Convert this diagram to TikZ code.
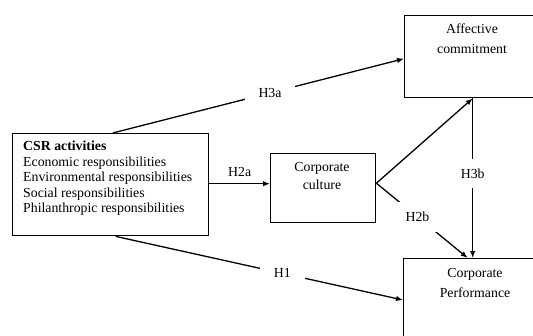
\documentclass[tikz,border=0pt]{standalone}
\usepackage{fontspec}
\setmainfont{Liberation Serif}
\usetikzlibrary{arrows.meta,calc}
\begin{document}
\begin{tikzpicture}[x=1pt,y=-1pt,
  box/.style={draw,line width=1.4pt,rectangle,inner sep=0pt,anchor=north west},
  arr/.style={line width=1.3pt,-{Latex[length=7pt,width=5.5pt]}},
  txt/.style={inner sep=0pt,font=\fontsize{13.8}{15.5}\selectfont},
  lab/.style={fill=white,inner xsep=14pt,inner ysep=10pt,font=\fontsize{13.8}{15.5}\selectfont}]
\useasboundingbox (0,0) rectangle (533,335);
\clip (0,0) rectangle (533,335);
% boxes
\node[box,minimum width=196pt,minimum height=102pt] (csr) at (12,133) {};
\node[box,minimum width=105pt,minimum height=69pt] (cult) at (270,153) {};
\node[box,minimum width=136pt,minimum height=82pt] (aff) at (404,15) {};
\node[box,minimum width=144pt,minimum height=110pt] (perf) at (403,258) {};
% texts
\node[txt,anchor=base west] (c1) at (23,150) {\textbf{CSR activities}};
\node[txt,anchor=base west] (c2) at (23,166) {Economic responsibilities};
\node[txt,anchor=base west] (c3) at (23,181.5) {Environmental responsibilities};
\node[txt,anchor=base west] (c4) at (23,197) {Social responsibilities};
\node[txt,anchor=base west] (c5) at (23,212.5) {Philanthropic responsibilities};
\node[txt,anchor=base] (k1) at (322,171) {Corporate};
\node[txt,anchor=base] (k2) at (322,189) {culture};
\node[txt,anchor=base] (a1) at (472,33) {Affective};
\node[txt,anchor=base] (a2) at (472,53) {commitment};
\node[txt,anchor=base] (p1) at (475,277) {Corporate};
\node[txt,anchor=base] (p2) at (475,297) {Performance};
% connectors
\draw[arr] ([xshift=2pt]csr.north) -- node[lab,pos=0.54] (h3a) {H3a} ([yshift=-2pt]aff.west);
\draw[arr] ([yshift=1pt]csr.east) -- node[txt,above=6pt] (h2a) {H2a} ([yshift=1pt]csr.east -| cult.west);
\draw[arr] ([yshift=5pt]cult.east) -- (aff.south);
\draw[arr] ([yshift=5pt]cult.east) -- node[lab,pos=0.45] (h2b) {H2b} ([xshift=-8pt]perf.north);
\draw[arr] (aff.south) -- node[lab,pos=0.47] (h3b) {H3b} (aff.south |- perf.north);
\draw[arr] ([xshift=5pt]csr.south) -- node[lab,pos=0.58] (h1) {H1} ([yshift=-2pt]perf.west |- 0,298);
\end{tikzpicture}
\end{document}
